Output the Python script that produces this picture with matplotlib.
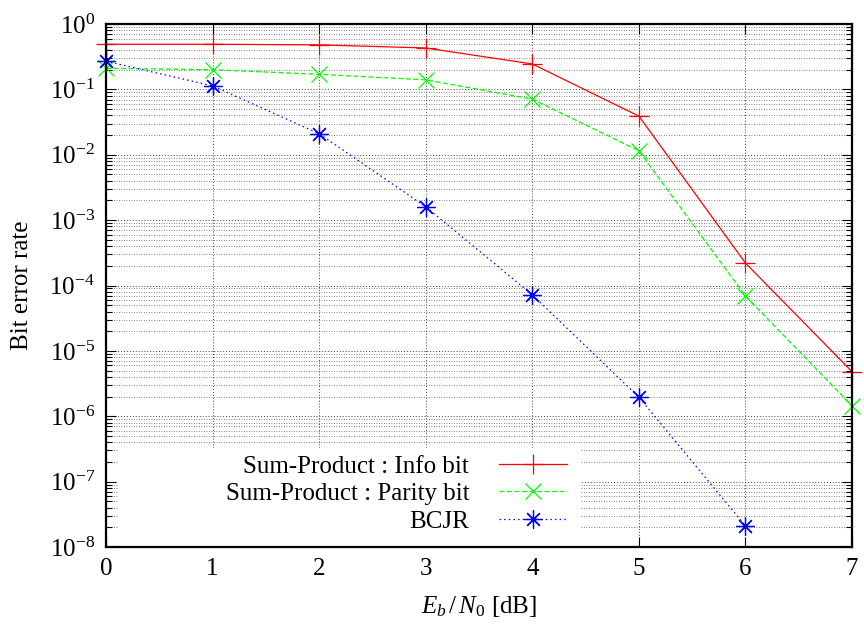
import math
import matplotlib
matplotlib.use("Agg")
import matplotlib.pyplot as plt
from matplotlib.patches import Rectangle
from matplotlib.ticker import LogLocator, FixedLocator, FuncFormatter, NullFormatter

plt.rcParams['font.family'] = ['Liberation Serif', 'DejaVu Serif']
plt.rcParams['mathtext.fontset'] = 'custom'
plt.rcParams['mathtext.rm'] = 'Liberation Serif'
plt.rcParams['mathtext.it'] = 'Liberation Serif:italic'
plt.rcParams['font.size'] = 18

# Eb/N0 en dB
snr_db = [0, 1, 2, 3, 4, 5, 6, 7]
# BER suma-producto, bits de información
ber_info = [0.49, 0.49, 0.48, 0.43, 0.245, 0.039, 2.2e-4, 4.8e-6]
# BER suma-producto, bits de paridad
ber_parity = [0.21, 0.20, 0.17, 0.14, 0.071, 0.0115, 6.9e-5, 1.44e-6]
# BER del BCJR (sin dato a 7 dB)
snr_bcjr = [0, 1, 2, 3, 4, 5, 6]
ber_bcjr = [0.27, 0.113, 0.021, 1.6e-3, 7.2e-5, 1.95e-6, 2.1e-8]

labels = ["Sum-Product : Info bit", "Sum-Product : Parity bit", "BCJR"]

fig = plt.figure(figsize=(8.64, 6.27), dpi=100)
ax = fig.add_axes([0.1227, 0.1276, 0.8635, 0.8341])

ax.plot(snr_db, ber_info, color='#ff0000', lw=0.9, ls='-', marker='+',
        ms=14, mew=0.9, label=labels[0], clip_on=False)
ax.plot(snr_db, ber_parity, color='#00ff00', lw=0.9, ls=(0, (4, 2)), marker='x',
        ms=11, mew=0.9, label=labels[1], clip_on=False)
ax.plot(snr_bcjr, ber_bcjr, color='#0000ff', lw=0.9, ls=(0, (1.2, 2.5)), marker=(8, 2, 0),
        ms=13, mew=0.9, label=labels[2], clip_on=False)

ax.set_yscale('log')
ax.set_xlim(0, 7)
ax.set_ylim(1e-8, 1)
ax.xaxis.set_major_locator(FixedLocator(snr_db))
ax.yaxis.set_major_locator(LogLocator(base=10, numticks=20))
ax.yaxis.set_minor_locator(LogLocator(base=10, subs=range(2, 10), numticks=20))
ax.yaxis.set_minor_formatter(NullFormatter())
ax.yaxis.set_major_formatter(FuncFormatter(lambda v, p: r'$10^{%d}$' % round(math.log10(v))))

ax.tick_params(which='both', direction='in', top=True, right=True)
ax.tick_params(which='major', length=7, width=0.8, pad=8)
ax.tick_params(which='minor', length=4, width=0.8)
for s in ax.spines.values():
    s.set_linewidth(1.6)

ax.set_axisbelow(True)
ax.grid(which='major', axis='both', color='0.25', ls=(0, (1, 2)), lw=0.7)
ax.grid(which='minor', axis='y', color='0.35', ls=(0, (1, 2)), lw=0.6)

# fondo blanco de la leyenda
ax.add_patch(Rectangle((0.016, 0.0), 0.619, 0.19, transform=ax.transAxes,
                       facecolor='white', edgecolor='none', zorder=1))
ax.legend(loc='lower right', bbox_to_anchor=(0.646, -0.013), frameon=False,
          markerfirst=False, handlelength=2.7, handletextpad=1.2,
          labelspacing=0.2, borderpad=0.35, fontsize=18)

ax.set_xlabel(r'$E_b\,/\,N_0$ [dB]', labelpad=10)
ax.set_ylabel('Bit error rate', labelpad=12)

fig.savefig('out.png', dpi=100)
